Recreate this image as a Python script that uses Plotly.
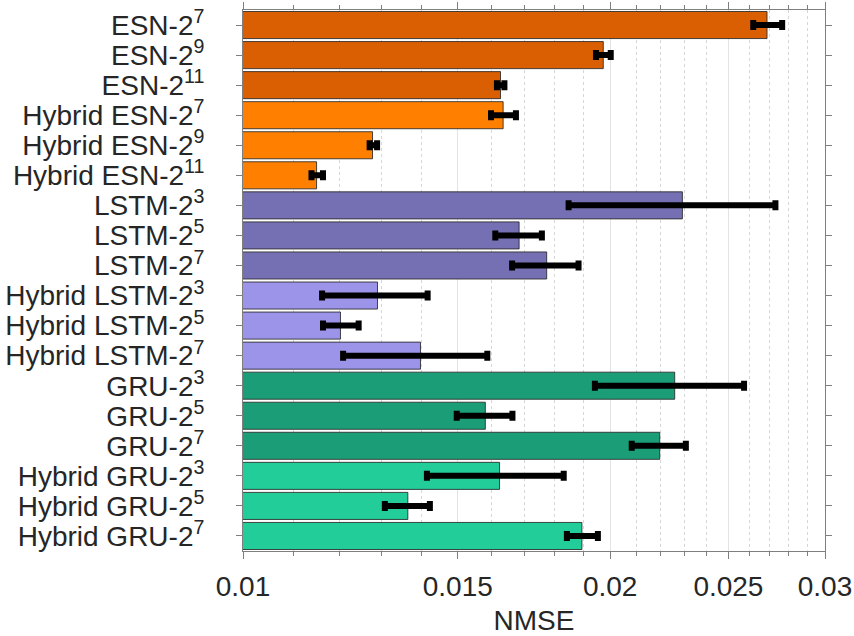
import plotly.graph_objects as go

# Model labels (top to bottom)
labels = [
    "ESN-2<sup>7</sup>", "ESN-2<sup>9</sup>", "ESN-2<sup>11</sup>",
    "Hybrid ESN-2<sup>7</sup>", "Hybrid ESN-2<sup>9</sup>", "Hybrid ESN-2<sup>11</sup>",
    "LSTM-2<sup>3</sup>", "LSTM-2<sup>5</sup>", "LSTM-2<sup>7</sup>",
    "Hybrid LSTM-2<sup>3</sup>", "Hybrid LSTM-2<sup>5</sup>", "Hybrid LSTM-2<sup>7</sup>",
    "GRU-2<sup>3</sup>", "GRU-2<sup>5</sup>", "GRU-2<sup>7</sup>",
    "Hybrid GRU-2<sup>3</sup>", "Hybrid GRU-2<sup>5</sup>", "Hybrid GRU-2<sup>7</sup>",
]

# Mean NMSE per model
nmse = [0.02689, 0.01974, 0.01626, 0.01634, 0.01277, 0.01149,
        0.02292, 0.01684, 0.01774, 0.01289, 0.01202, 0.01398,
        0.02259, 0.01580, 0.02196, 0.01623, 0.01365, 0.01896]

# Lower / upper ends of the spread
nmse_low = [0.02620, 0.01947, 0.01615, 0.01597, 0.01270, 0.01138,
            0.01849, 0.01610, 0.01662, 0.01161, 0.01163, 0.01208,
            0.01943, 0.01497, 0.02083, 0.01415, 0.01307, 0.01843]
nmse_high = [0.02767, 0.02002, 0.01638, 0.01674, 0.01288, 0.01163,
             0.02732, 0.01758, 0.01884, 0.01417, 0.01244, 0.01586,
             0.02575, 0.01663, 0.02307, 0.01832, 0.01423, 0.01954]

# Model family of each bar
family = ["ESN"] * 3 + ["Hybrid ESN"] * 3 + ["LSTM"] * 3 + ["Hybrid LSTM"] * 3 + \
         ["GRU"] * 3 + ["Hybrid GRU"] * 3

family_colors = {
    "ESN": "#d95f02",
    "Hybrid ESN": "#ff7f00",
    "LSTM": "#7570b3",
    "Hybrid LSTM": "#9b94e8",
    "GRU": "#1b9e77",
    "Hybrid GRU": "#22cd9a",
}

# Axis ticks
major_ticks = [0.01, 0.015, 0.02, 0.025, 0.03]
major_text = ["0.01", "0.015", "0.02", "0.025", "0.03"]
minor_ticks = [0.011, 0.012, 0.013, 0.014, 0.016, 0.017, 0.018, 0.019,
               0.021, 0.022, 0.023, 0.024, 0.026, 0.027, 0.028, 0.029]

err_plus = [h - v for h, v in zip(nmse_high, nmse)]
err_minus = [v - l for v, l in zip(nmse, nmse_low)]
colors = [family_colors[f] for f in family]

fig = go.Figure(
    go.Bar(
        x=nmse,
        y=labels,
        orientation="h",
        marker=dict(color=colors, line=dict(color="rgba(40,40,40,0.85)", width=1)),
        error_x=dict(
            type="data",
            symmetric=False,
            array=err_plus,
            arrayminus=err_minus,
            color="black",
            thickness=6,
            width=5,
        ),
        showlegend=False,
    )
)

axis_font = dict(family="Liberation Sans, Arial, sans-serif", size=28, color="#262626")

fig.update_layout(
    width=854,
    height=636,
    margin=dict(l=243, r=29, t=10, b=85),
    plot_bgcolor="white",
    paper_bgcolor="white",
    font=axis_font,
    bargap=0.1,
    xaxis=dict(
        type="log",
        range=[-2, -2 + 0.47712],
        automargin=False,
        tickmode="array",
        tickvals=major_ticks,
        ticktext=major_text,
        ticks="outside",
        ticklen=7,
        ticklabelstandoff=3,
        tickcolor="#7f7f7f",
        showline=True,
        linecolor="#7f7f7f",
        linewidth=1,
        mirror="ticks",
        showgrid=True,
        gridcolor="#e3e3e3",
        gridwidth=1,
        zeroline=False,
        tickfont=axis_font,
        title=dict(text="NMSE", font=axis_font, standoff=16),
        minor=dict(
            tickmode="array",
            tickvals=minor_ticks,
            ticks="outside",
            ticklen=4,
            tickcolor="#7f7f7f",
            showgrid=True,
            gridcolor="#d6d6d6",
            griddash="dot",
            gridwidth=1,
        ),
    ),
    yaxis=dict(
        type="category",
        range=[len(labels) - 0.5, -0.5],
        automargin=False,
        tickmode="array",
        tickvals=labels,
        ticktext=labels,
        ticks="outside",
        ticklen=6,
        ticklabelstandoff=26,
        tickcolor="#7f7f7f",
        showline=True,
        linecolor="#7f7f7f",
        linewidth=1,
        mirror="ticks",
        showgrid=False,
        tickfont=axis_font,
    ),
)

fig.write_html("out.html")
